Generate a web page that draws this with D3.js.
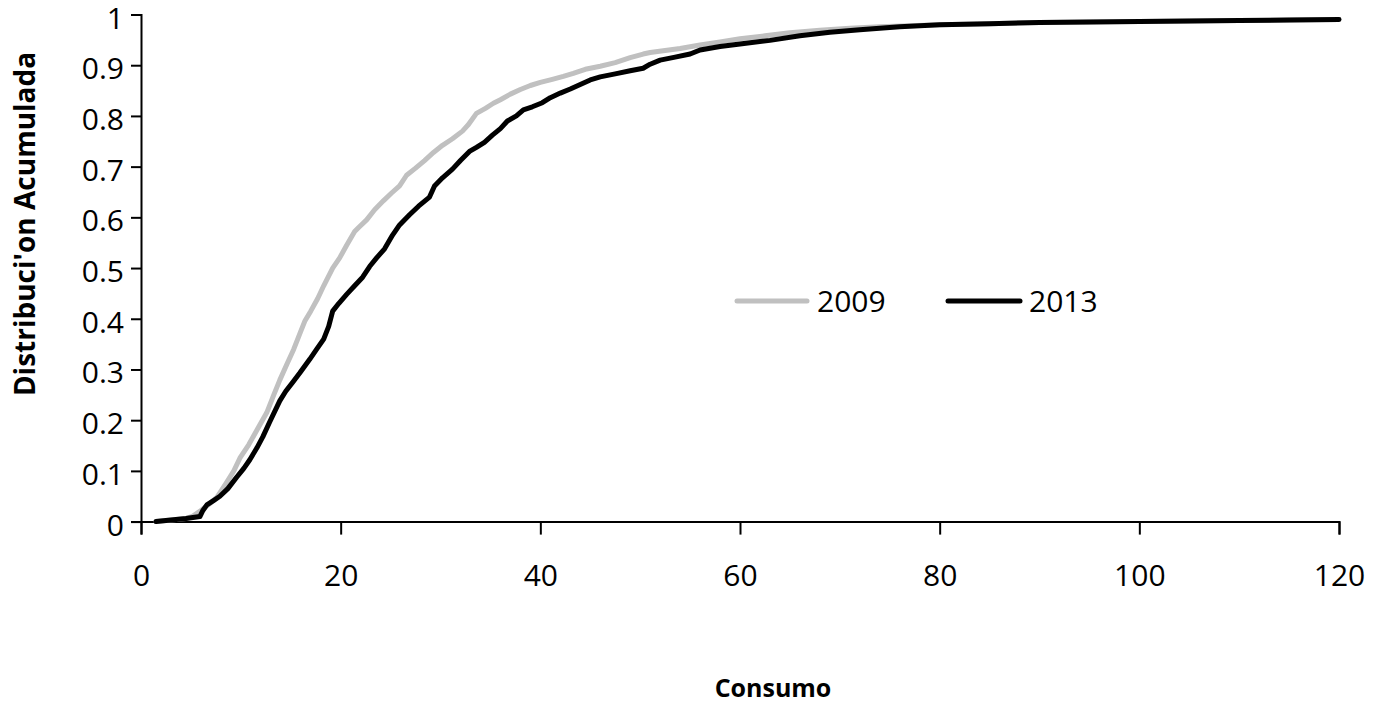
<!DOCTYPE html>
<html>
<head>
<meta charset="utf-8">
<script src="https://cdn.jsdelivr.net/npm/d3@7"></script>
<style>
  html, body { margin: 0; padding: 0; background: #fff; }
  svg { display: block; }
</style>
</head>
<body>
<svg id="chart" width="1375" height="707"></svg>
<script>
// ---- data ----
const xTicks = [0, 20, 40, 60, 80, 100, 120];
const yTicks = [0, 0.1, 0.2, 0.3, 0.4, 0.5, 0.6, 0.7, 0.8, 0.9, 1];
const seriesNames = ["2009", "2013"];

const x2009 = [1.5, 3, 4.5, 5.2, 6, 6.8, 7.6, 8.5, 9.3, 9.9, 10.8, 11.6, 12.6, 13.3, 13.9, 14.6, 15.3, 16.0, 16.4, 17.0, 17.7, 18.3, 19.2, 19.9, 20.6, 21.4, 21.8, 22.6, 23.4, 24.3, 25.1, 25.9, 26.6, 27.5, 28.4, 29.3, 30.2, 31.2, 32.2, 32.8, 33.6, 34.5, 35.3, 36.0, 37.0, 38.0, 39.0, 40.0, 41.2, 42.3, 43.3, 44.5, 46.0, 47.5, 49.0, 50.3, 51.0, 52.5, 54.0, 56.0, 58.0, 60.0, 62.5, 65.0, 68.0, 71.0, 74.0, 77.0, 80.0, 85, 90, 95, 100, 105, 110, 115, 120];
const y2009 = [0, 0.003, 0.006, 0.011, 0.022, 0.034, 0.048, 0.075, 0.1, 0.125, 0.152, 0.18, 0.215, 0.25, 0.279, 0.31, 0.34, 0.375, 0.395, 0.415, 0.44, 0.465, 0.5, 0.52, 0.545, 0.572, 0.58, 0.595, 0.615, 0.633, 0.648, 0.662, 0.683, 0.697, 0.712, 0.728, 0.742, 0.755, 0.77, 0.783, 0.805, 0.815, 0.825, 0.832, 0.843, 0.852, 0.86, 0.866, 0.872, 0.878, 0.884, 0.892, 0.898, 0.905, 0.915, 0.922, 0.925, 0.929, 0.933, 0.94, 0.946, 0.952, 0.958, 0.964, 0.969, 0.973, 0.976, 0.978, 0.98, 0.982, 0.984, 0.985, 0.986, 0.987, 0.988, 0.989, 0.99];

const x2013 = [1.5, 3, 4.5, 5.9, 6.2, 6.6, 7.3, 7.9, 8.7, 9.6, 10.3, 10.9, 11.6, 12.2, 12.9, 13.9, 14.5, 15.2, 15.9, 16.9, 17.6, 18.3, 18.8, 19.2, 19.8, 20.6, 21.4, 22.2, 22.9, 23.6, 24.4, 25.2, 25.9, 26.9, 27.8, 28.9, 29.4, 30.2, 31.2, 32.0, 32.9, 33.6, 34.4, 35.2, 36.0, 36.7, 37.6, 38.3, 39.2, 40.2, 41.0, 42.0, 43.0, 44.0, 45.0, 46.0, 47.5, 49.0, 50.3, 51.0, 52.0, 53.5, 55.0, 56.0, 58.0, 60.0, 63.0, 66.0, 69.0, 72.0, 76.0, 80.0, 85, 90, 95, 100, 105, 110, 115, 120];
const y2013 = [0, 0.003, 0.006, 0.01, 0.022, 0.033, 0.042, 0.05, 0.065, 0.088, 0.105, 0.122, 0.145, 0.167, 0.197, 0.238, 0.257, 0.275, 0.293, 0.32, 0.34, 0.36, 0.385, 0.415, 0.43, 0.448, 0.465, 0.482, 0.503, 0.52, 0.538, 0.565, 0.585, 0.605, 0.622, 0.64, 0.662, 0.678, 0.695, 0.712, 0.73, 0.738, 0.748, 0.762, 0.775, 0.79, 0.8, 0.812, 0.818, 0.826, 0.836, 0.845, 0.853, 0.862, 0.871, 0.877, 0.883, 0.889, 0.894, 0.902, 0.91, 0.916, 0.922, 0.93, 0.937, 0.942, 0.949, 0.958, 0.965, 0.97, 0.976, 0.98, 0.982, 0.984, 0.985, 0.986, 0.987, 0.988, 0.989, 0.99];

const xLabel = "Consumo";
const yLabel = "Distribuci'on Acumulada";

// ---- layout ----
const svg = d3.select("#chart");
const mLeft = 141, mRight = 1339, mTop = 14.5, mBottom = 521.6;
const x = d3.scaleLinear().domain([0, 120]).range([mLeft, mRight]);
const y = d3.scaleLinear().domain([0, 1]).range([mBottom, mTop]);
const font = "'Open Sans', sans-serif";
const colors = ["#c0c0c0", "#000000"];

// axes
const xAxis = svg.append("g").attr("transform", `translate(0,${mBottom})`)
  .call(d3.axisBottom(x).tickValues(xTicks).tickSize(13).tickPadding(30).tickFormat(d3.format("d")));
const yAxis = svg.append("g").attr("transform", `translate(${mLeft},0)`)
  .call(d3.axisLeft(y).tickValues(yTicks).tickSize(10).tickPadding(7).tickFormat(d => d === 0 ? "0" : d === 1 ? "1" : d3.format(".1f")(d)));
[xAxis, yAxis].forEach(a => {
  a.select(".domain").attr("stroke", "#000").attr("stroke-width", 2);
  a.selectAll(".tick line").attr("stroke", "#000").attr("stroke-width", 2);
  a.selectAll(".tick text").attr("fill", "#000").style("font-family", font).style("font-size", "30px");
});
yAxis.selectAll(".tick text").attr("dy", "0.45em");

// lines
const series = [
  { name: seriesNames[0], xs: x2009, ys: y2009, color: colors[0] },
  { name: seriesNames[1], xs: x2013, ys: y2013, color: colors[1] }
];
const line = d3.line().x(d => x(d[0])).y(d => y(d[1]));
series.forEach(s => {
  svg.append("path")
    .datum(s.xs.map((v, i) => [v, s.ys[i]]))
    .attr("d", line)
    .attr("fill", "none")
    .attr("stroke", s.color)
    .attr("stroke-width", 5)
    .attr("stroke-linejoin", "round")
    .attr("stroke-linecap", "round");
});

// legend
const legendPos = [{ x1: 737, x2: 807, tx: 817 }, { x1: 948, x2: 1020, tx: 1029 }];
const legY = 301;
series.forEach((s, i) => {
  const p = legendPos[i];
  svg.append("line").attr("x1", p.x1).attr("x2", p.x2).attr("y1", legY).attr("y2", legY)
    .attr("stroke", s.color).attr("stroke-width", 5).attr("stroke-linecap", "round");
  svg.append("text").attr("x", p.tx).attr("y", legY).attr("dy", "0.38em")
    .style("font-family", font).style("font-size", "30px").attr("fill", "#000").text(s.name);
});

// axis titles
svg.append("text").attr("x", 773).attr("y", 697).attr("text-anchor", "middle")
  .style("font-family", font).style("font-size", "25px").style("font-weight", "bold").text(xLabel);
svg.append("text").attr("transform", "translate(35,224) rotate(-90)").attr("text-anchor", "middle")
  .style("font-family", font).style("font-size", "28px").style("font-weight", "bold").text(yLabel);
</script>
</body>
</html>
